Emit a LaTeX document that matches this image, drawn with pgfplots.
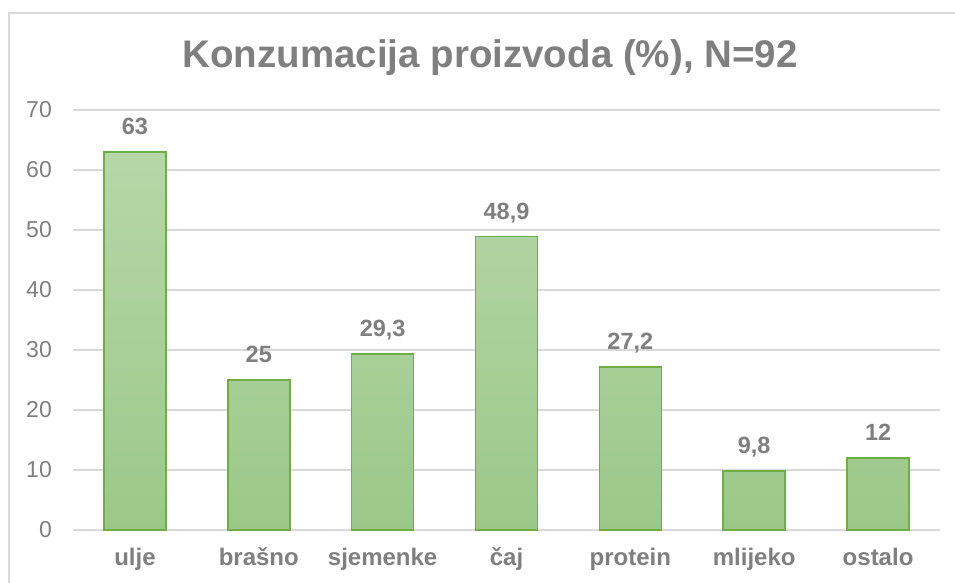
\documentclass[border=0pt]{standalone}
\usepackage{pgfplots}
\pgfplotsset{compat=1.18}
\usepackage{fontspec}
\setmainfont{Liberation Sans}
\definecolor{txt}{HTML}{7F7F7F}
\definecolor{gridc}{HTML}{D9D9D9}
\definecolor{bartop}{HTML}{B6D7A8}
\definecolor{barbot}{HTML}{9BC888}
\definecolor{barline}{HTML}{70AD47}
\begin{document}
\begin{tikzpicture}[x=1pt,y=1pt]
\useasboundingbox (0,0) rectangle (955,583);
\draw[gridc, line width=1.2pt] (9,-50) -- (9,570) -- (1100,570);
\node[font=\bfseries\fontsize{38.5}{44}\selectfont, text=txt, anchor=base] at (490,515) {Konzumacija proizvoda (\%), N=92};
\begin{axis}[
  at={(73pt,53pt)}, anchor=south west,
  scale only axis, width=867pt, height=420pt,
  xmin=-0.5, xmax=6.5, ymin=0, ymax=70,
  enlargelimits=false,
  ytick={0,10,...,70},
  xtick=data,
  xticklabels={ulje,brašno,sjemenke,čaj,protein,mlijeko,ostalo},
  ymajorgrids, grid style={gridc, line width=1.1pt},
  axis line style={draw=none},
  major tick length=0pt,
  yticklabel style={font=\fontsize{23}{27}\selectfont, text=txt, inner sep=0pt, xshift=-21pt},
  xticklabel style={font=\bfseries\fontsize{24}{28}\selectfont, text=txt, anchor=base, inner sep=0pt, yshift=-35pt},
  /pgf/number format/.cd, use comma, 1000 sep={}, assume math mode=true,
  /pgfplots/.cd,
  ybar, bar width=62pt,
  nodes near coords,
  nodes near coords style={font=\bfseries\fontsize{23.5}{27}\selectfont, text=txt, anchor=base, inner sep=0pt, yshift=17.5pt},
  clip=false,
]
\addplot[draw=barline, line width=1.7pt, top color=bartop, bottom color=barbot] coordinates {(0,63) (1,25) (2,29.3) (3,48.9) (4,27.2) (5,9.8) (6,12)};
\end{axis}
\end{tikzpicture}
\end{document}
